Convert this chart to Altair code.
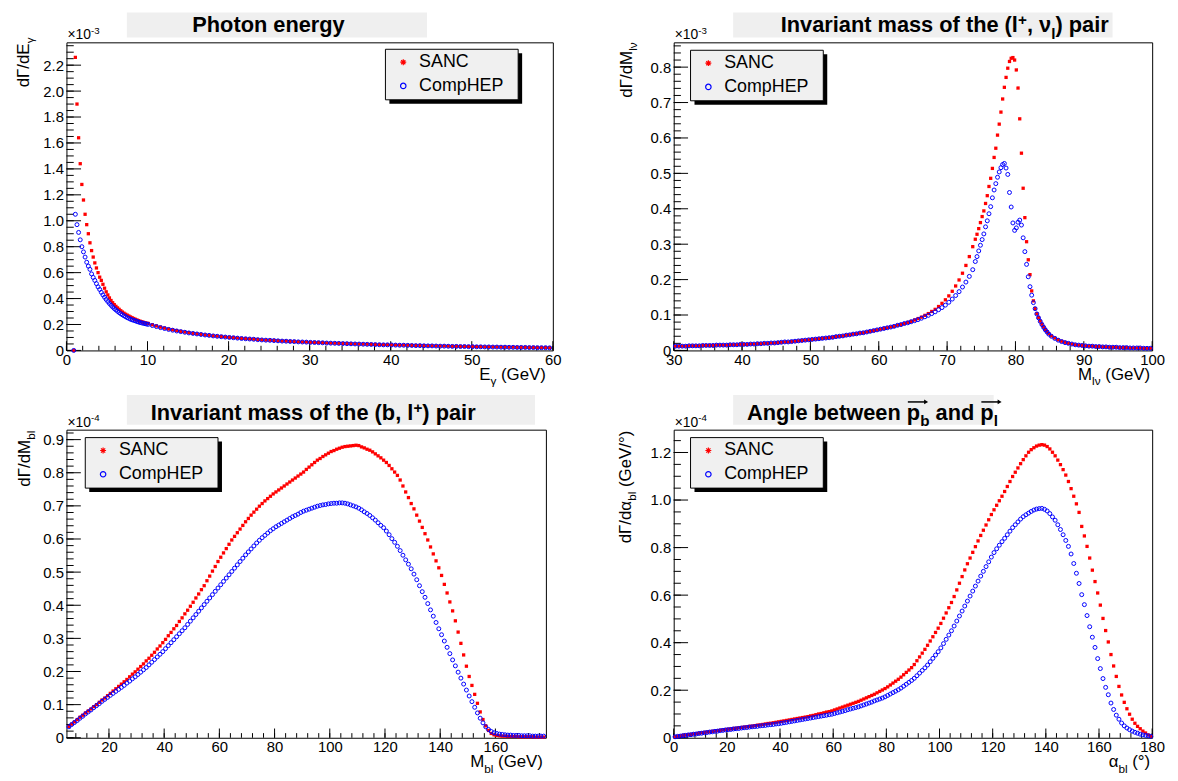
import altair as alt
import pandas as pd

FONT = "Liberation Sans"
RED = "#ff0000"
BLUE = "#0000ff"

# ---------------- data ----------------
# Panel 1: photon energy (GeV); dGamma/dE_gamma in units of 1e-3
EG_FINE = [round(0.9 + 0.2 * i, 2) for i in range(46)]      # bin centres 0.9 .. 9.9
EG_COARSE = [round(10.1 + 0.5 * i, 2) for i in range(100)]  # bin centres 10.1 .. 59.6
SANC_EG_FINE = [0.0, 2.26, 1.90, 1.64, 1.44, 1.28, 1.16, 1.05, 0.97, 0.90,
                0.83, 0.77, 0.72, 0.675, 0.636, 0.60, 0.565, 0.54, 0.51, 0.48,
                0.452, 0.428, 0.405, 0.385, 0.368, 0.353, 0.34, 0.328, 0.317, 0.306,
                0.296, 0.287, 0.279, 0.272, 0.265, 0.258, 0.252, 0.246, 0.240, 0.235,
                0.230, 0.225, 0.221, 0.217, 0.213, 0.210]
COMP_EG_FINE = [0.0, 1.05, 0.97, 0.91, 0.853, 0.80, 0.76, 0.72, 0.68, 0.65,
                0.625, 0.59, 0.563, 0.54, 0.515, 0.49, 0.47, 0.448, 0.428, 0.41,
                0.393, 0.377, 0.362, 0.348, 0.335, 0.323, 0.312, 0.302, 0.292, 0.283,
                0.275, 0.267, 0.26, 0.253, 0.247, 0.241, 0.236, 0.232, 0.228, 0.223,
                0.219, 0.215, 0.212, 0.209, 0.206, 0.203]
SANC_EG_COARSE = [0.208, 0.198, 0.189, 0.180, 0.172, 0.165, 0.159, 0.153, 0.147, 0.142,
                  0.137, 0.132, 0.128, 0.124, 0.120, 0.117, 0.113, 0.110, 0.107, 0.104,
                  0.101, 0.099, 0.096, 0.093, 0.091, 0.089, 0.087, 0.084, 0.082, 0.080,
                  0.079, 0.077, 0.075, 0.073, 0.072, 0.070, 0.069, 0.067, 0.066, 0.065,
                  0.063, 0.062, 0.061, 0.060, 0.058, 0.057, 0.056, 0.055, 0.054, 0.053,
                  0.052, 0.051, 0.050, 0.049, 0.048, 0.047, 0.046, 0.045, 0.044, 0.044,
                  0.043, 0.042, 0.041, 0.041, 0.040, 0.039, 0.038, 0.038, 0.037, 0.036,
                  0.036, 0.035, 0.034, 0.034, 0.033, 0.032, 0.032, 0.031, 0.031, 0.030,
                  0.030, 0.029, 0.029, 0.028, 0.028, 0.027, 0.027, 0.026, 0.026, 0.025,
                  0.025, 0.024, 0.024, 0.024, 0.023, 0.023, 0.022, 0.022, 0.022, 0.021]
COMP_EG_COARSE = [0.201, 0.192, 0.184, 0.176, 0.169, 0.162, 0.156, 0.150, 0.145, 0.140,
                  0.135, 0.131, 0.127, 0.123, 0.119, 0.116, 0.112, 0.109, 0.106, 0.103,
                  0.100, 0.098, 0.095, 0.092, 0.090, 0.088, 0.086, 0.083, 0.081, 0.079,
                  0.078, 0.076, 0.074, 0.072, 0.071, 0.069, 0.068, 0.066, 0.065, 0.064,
                  0.062, 0.061, 0.060, 0.059, 0.057, 0.056, 0.055, 0.054, 0.053, 0.052,
                  0.051, 0.050, 0.049, 0.048, 0.047, 0.046, 0.045, 0.044, 0.043, 0.043,
                  0.042, 0.041, 0.040, 0.040, 0.039, 0.038, 0.037, 0.037, 0.036, 0.035,
                  0.035, 0.034, 0.033, 0.033, 0.032, 0.031, 0.031, 0.030, 0.030, 0.029,
                  0.029, 0.028, 0.028, 0.027, 0.027, 0.026, 0.026, 0.025, 0.025, 0.024,
                  0.024, 0.023, 0.023, 0.023, 0.022, 0.022, 0.021, 0.021, 0.021, 0.020]

# Panel 2: M_lnu (GeV); dGamma/dM_lnu in units of 1e-3
MLV_LOW = [round(30.25 + 0.5 * i, 3) for i in range(88)]     # 30.25 .. 73.75
MLV_PEAK = [round(74.125 + 0.25 * i, 3) for i in range(44)]  # 74.125 .. 84.875
MLV_HIGH = [round(85.25 + 0.5 * i, 3) for i in range(30)]    # 85.25 .. 99.75
SANC_MLV_LOW = [0.012, 0.012, 0.012, 0.012, 0.013, 0.013, 0.013, 0.013, 0.014, 0.014,
                0.014, 0.014, 0.015, 0.015, 0.015, 0.015, 0.016, 0.016, 0.016, 0.017,
                0.017, 0.017, 0.018, 0.018, 0.019, 0.019, 0.020, 0.020, 0.021, 0.021,
                0.022, 0.023, 0.024, 0.024, 0.025, 0.026, 0.027, 0.028, 0.029, 0.030,
                0.031, 0.032, 0.033, 0.034, 0.035, 0.036, 0.037, 0.039, 0.040, 0.041,
                0.043, 0.044, 0.046, 0.047, 0.049, 0.050, 0.052, 0.054, 0.056, 0.058,
                0.060, 0.062, 0.064, 0.066, 0.068, 0.071, 0.073, 0.076, 0.079, 0.082,
                0.086, 0.090, 0.094, 0.099, 0.104, 0.110, 0.116, 0.124, 0.133, 0.143,
                0.154, 0.167, 0.182, 0.199, 0.218, 0.240, 0.265, 0.293]
COMP_MLV_LOW = [0.012, 0.012, 0.012, 0.012, 0.013, 0.013, 0.013, 0.013, 0.014, 0.014,
                0.014, 0.014, 0.015, 0.015, 0.015, 0.015, 0.016, 0.016, 0.016, 0.017,
                0.017, 0.017, 0.018, 0.018, 0.019, 0.019, 0.020, 0.020, 0.021, 0.021,
                0.022, 0.023, 0.024, 0.024, 0.025, 0.026, 0.027, 0.028, 0.029, 0.030,
                0.031, 0.032, 0.033, 0.034, 0.035, 0.036, 0.037, 0.039, 0.040, 0.041,
                0.043, 0.044, 0.046, 0.047, 0.049, 0.050, 0.052, 0.054, 0.056, 0.058,
                0.060, 0.062, 0.064, 0.066, 0.068, 0.071, 0.073, 0.076, 0.078, 0.081,
                0.084, 0.087, 0.091, 0.095, 0.099, 0.104, 0.109, 0.115, 0.121, 0.128,
                0.136, 0.145, 0.155, 0.166, 0.179, 0.193, 0.209, 0.228]
SANC_MLV_PEAK = [0.314, 0.328, 0.344, 0.361, 0.378, 0.394, 0.415, 0.437, 0.463, 0.486,
                 0.514, 0.545, 0.571, 0.608, 0.639, 0.673, 0.710, 0.743, 0.771, 0.797,
                 0.816, 0.825, 0.827, 0.820, 0.792, 0.741, 0.654, 0.557, 0.458, 0.375,
                 0.307, 0.256, 0.214, 0.168, 0.140, 0.118, 0.104, 0.093, 0.083, 0.074,
                 0.066, 0.059, 0.053, 0.047]
COMP_MLV_PEAK = [0.251, 0.265, 0.281, 0.297, 0.313, 0.329, 0.349, 0.366, 0.386, 0.406,
                 0.431, 0.453, 0.471, 0.489, 0.504, 0.516, 0.525, 0.528, 0.515, 0.497,
                 0.446, 0.405, 0.360, 0.339, 0.346, 0.362, 0.368, 0.354, 0.318, 0.279,
                 0.243, 0.208, 0.180, 0.156, 0.135, 0.118, 0.103, 0.092, 0.082, 0.073,
                 0.065, 0.058, 0.052, 0.046]
SANC_MLV_HIGH = [0.041, 0.035, 0.030, 0.026, 0.023, 0.020, 0.018, 0.016, 0.015, 0.014,
                 0.013, 0.012, 0.012, 0.011, 0.011, 0.010, 0.010, 0.009, 0.009, 0.009,
                 0.008, 0.008, 0.008, 0.007, 0.007, 0.007, 0.007, 0.006, 0.006, 0.006]
COMP_MLV_HIGH = [0.040, 0.034, 0.029, 0.025, 0.022, 0.020, 0.018, 0.016, 0.015, 0.014,
                 0.013, 0.012, 0.012, 0.011, 0.011, 0.010, 0.010, 0.009, 0.009, 0.009,
                 0.008, 0.008, 0.008, 0.007, 0.007, 0.007, 0.007, 0.006, 0.006, 0.006]

# Panel 3: M_bl (GeV); dGamma/dM_bl in units of 1e-4
MBL = [round(5.5 + i, 1) for i in range(173)]  # 5.5 .. 177.5
SANC_MBL = [0.034, 0.041, 0.048, 0.055, 0.062, 0.068, 0.075, 0.081, 0.087, 0.094,
            0.100, 0.107, 0.114, 0.120, 0.127, 0.134, 0.141, 0.148, 0.155, 0.162,
            0.169, 0.176, 0.184, 0.192, 0.199, 0.207, 0.215, 0.223, 0.232, 0.240,
            0.249, 0.258, 0.268, 0.277, 0.287, 0.297, 0.308, 0.318, 0.329, 0.339,
            0.351, 0.362, 0.374, 0.385, 0.397, 0.409, 0.422, 0.434, 0.447, 0.459,
            0.474, 0.488, 0.503, 0.517, 0.532, 0.545, 0.558, 0.571, 0.584, 0.597,
            0.608, 0.619, 0.630, 0.641, 0.652, 0.662, 0.672, 0.681, 0.690, 0.699,
            0.707, 0.715, 0.722, 0.729, 0.736, 0.742, 0.748, 0.754, 0.760, 0.766,
            0.772, 0.778, 0.784, 0.790, 0.796, 0.802, 0.810, 0.817, 0.824, 0.831,
            0.838, 0.843, 0.849, 0.854, 0.859, 0.864, 0.867, 0.871, 0.874, 0.877,
            0.879, 0.880, 0.881, 0.882, 0.883, 0.882, 0.878, 0.875, 0.871, 0.868,
            0.863, 0.857, 0.851, 0.845, 0.838, 0.831, 0.822, 0.812, 0.802, 0.792,
            0.778, 0.760, 0.742, 0.725, 0.707, 0.691, 0.672, 0.654, 0.635, 0.616,
            0.597, 0.576, 0.555, 0.534, 0.513, 0.490, 0.463, 0.437, 0.410, 0.383,
            0.353, 0.319, 0.285, 0.250, 0.216, 0.185, 0.158, 0.131, 0.104, 0.078,
            0.055, 0.036, 0.022, 0.013, 0.009, 0.007, 0.006, 0.005, 0.005, 0.004,
            0.004, 0.004, 0.004, 0.003, 0.003, 0.003, 0.003, 0.003, 0.003, 0.002,
            0.002, 0.002, 0.002]
COMP_MBL = [0.033, 0.040, 0.046, 0.052, 0.059, 0.065, 0.072, 0.078, 0.084, 0.091,
            0.097, 0.103, 0.110, 0.116, 0.122, 0.128, 0.134, 0.140, 0.146, 0.152,
            0.158, 0.165, 0.171, 0.178, 0.184, 0.191, 0.198, 0.205, 0.212, 0.220,
            0.228, 0.236, 0.244, 0.252, 0.260, 0.269, 0.278, 0.287, 0.296, 0.305,
            0.314, 0.323, 0.332, 0.342, 0.352, 0.362, 0.372, 0.382, 0.392, 0.402,
            0.412, 0.422, 0.432, 0.442, 0.452, 0.462, 0.472, 0.482, 0.492, 0.502,
            0.512, 0.522, 0.532, 0.542, 0.552, 0.561, 0.570, 0.579, 0.588, 0.596,
            0.604, 0.611, 0.618, 0.625, 0.631, 0.637, 0.642, 0.647, 0.652, 0.657,
            0.662, 0.667, 0.671, 0.675, 0.680, 0.684, 0.687, 0.690, 0.693, 0.696,
            0.699, 0.701, 0.703, 0.704, 0.706, 0.707, 0.708, 0.708, 0.709, 0.709,
            0.708, 0.706, 0.703, 0.700, 0.697, 0.693, 0.688, 0.682, 0.677, 0.671,
            0.664, 0.657, 0.649, 0.641, 0.634, 0.624, 0.613, 0.601, 0.590, 0.578,
            0.565, 0.551, 0.537, 0.524, 0.510, 0.494, 0.477, 0.459, 0.441, 0.424,
            0.405, 0.386, 0.367, 0.348, 0.329, 0.311, 0.292, 0.273, 0.254, 0.235,
            0.217, 0.198, 0.180, 0.162, 0.144, 0.126, 0.109, 0.092, 0.075, 0.059,
            0.045, 0.033, 0.025, 0.019, 0.015, 0.013, 0.011, 0.010, 0.009, 0.008,
            0.008, 0.007, 0.007, 0.007, 0.006, 0.006, 0.006, 0.006, 0.005, 0.005,
            0.005, 0.005, 0.005]

# Panel 4: alpha_bl (degrees); dGamma/dalpha_bl in units of 1e-4 GeV/deg
ABL = [round(0.5 + i, 1) for i in range(180)]  # 0.5 .. 179.5
SANC_ABL = [0.004, 0.006, 0.008, 0.010, 0.011, 0.013, 0.014, 0.016, 0.017, 0.019,
            0.021, 0.022, 0.024, 0.025, 0.027, 0.028, 0.030, 0.031, 0.033, 0.034,
            0.036, 0.037, 0.039, 0.040, 0.042, 0.043, 0.045, 0.046, 0.048, 0.049,
            0.051, 0.053, 0.054, 0.056, 0.058, 0.060, 0.061, 0.063, 0.065, 0.067,
            0.069, 0.071, 0.073, 0.075, 0.077, 0.079, 0.081, 0.083, 0.085, 0.087,
            0.089, 0.092, 0.094, 0.097, 0.100, 0.102, 0.105, 0.108, 0.110, 0.113,
            0.117, 0.121, 0.125, 0.129, 0.133, 0.137, 0.141, 0.145, 0.149, 0.153,
            0.158, 0.163, 0.168, 0.173, 0.178, 0.183, 0.189, 0.195, 0.201, 0.207,
            0.214, 0.222, 0.230, 0.238, 0.246, 0.255, 0.265, 0.275, 0.285, 0.295,
            0.308, 0.324, 0.340, 0.356, 0.372, 0.389, 0.407, 0.425, 0.443, 0.461,
            0.481, 0.503, 0.525, 0.547, 0.569, 0.594, 0.622, 0.650, 0.678, 0.706,
            0.732, 0.756, 0.780, 0.804, 0.828, 0.851, 0.873, 0.895, 0.917, 0.939,
            0.959, 0.978, 0.997, 1.016, 1.036, 1.057, 1.078, 1.099, 1.117, 1.135,
            1.153, 1.170, 1.186, 1.201, 1.212, 1.220, 1.227, 1.231, 1.233, 1.231,
            1.225, 1.215, 1.201, 1.186, 1.168, 1.149, 1.128, 1.105, 1.078, 1.048,
            1.016, 0.984, 0.948, 0.889, 0.849, 0.805, 0.756, 0.705, 0.657, 0.609,
            0.558, 0.502, 0.451, 0.403, 0.350, 0.302, 0.258, 0.216, 0.180, 0.149,
            0.122, 0.099, 0.078, 0.061, 0.048, 0.038, 0.028, 0.020, 0.012, 0.006]
COMP_ABL = [0.004, 0.006, 0.007, 0.009, 0.010, 0.012, 0.013, 0.015, 0.016, 0.018,
            0.019, 0.021, 0.022, 0.024, 0.025, 0.027, 0.028, 0.030, 0.031, 0.033,
            0.034, 0.035, 0.037, 0.038, 0.039, 0.041, 0.042, 0.043, 0.045, 0.046,
            0.047, 0.048, 0.050, 0.051, 0.052, 0.054, 0.055, 0.056, 0.058, 0.059,
            0.061, 0.063, 0.065, 0.067, 0.069, 0.071, 0.073, 0.075, 0.077, 0.079,
            0.081, 0.083, 0.085, 0.087, 0.089, 0.091, 0.093, 0.095, 0.097, 0.099,
            0.102, 0.105, 0.108, 0.111, 0.114, 0.118, 0.121, 0.124, 0.127, 0.130,
            0.134, 0.138, 0.142, 0.146, 0.150, 0.155, 0.159, 0.163, 0.167, 0.172,
            0.178, 0.184, 0.190, 0.196, 0.202, 0.209, 0.217, 0.225, 0.233, 0.241,
            0.250, 0.261, 0.272, 0.283, 0.294, 0.306, 0.320, 0.334, 0.348, 0.362,
            0.378, 0.396, 0.414, 0.432, 0.450, 0.470, 0.491, 0.512, 0.533, 0.554,
            0.575, 0.596, 0.617, 0.638, 0.659, 0.680, 0.700, 0.720, 0.740, 0.760,
            0.779, 0.795, 0.810, 0.825, 0.839, 0.854, 0.869, 0.884, 0.896, 0.908,
            0.920, 0.930, 0.938, 0.945, 0.952, 0.958, 0.962, 0.964, 0.965, 0.961,
            0.954, 0.943, 0.929, 0.915, 0.896, 0.876, 0.854, 0.830, 0.805, 0.773,
            0.733, 0.692, 0.649, 0.602, 0.560, 0.514, 0.467, 0.423, 0.380, 0.333,
            0.291, 0.249, 0.212, 0.181, 0.146, 0.119, 0.095, 0.078, 0.062, 0.050,
            0.041, 0.034, 0.028, 0.023, 0.019, 0.015, 0.012, 0.010, 0.008, 0.006]

# ---------------- helpers ----------------
REG_W = {' ': 278, '(': 333, ')': 333, '/': 278, '-': 333, '×': 584, '°': 400,
         'A': 667, 'C': 722, 'E': 667, 'G': 778, 'H': 722, 'M': 833, 'N': 722,
         'P': 667, 'S': 667, 'V': 667, 'a': 556, 'b': 556, 'd': 556, 'e': 556,
         'l': 222, 'm': 833, 'o': 556, 'p': 556, 'Γ': 556, 'α': 578, 'γ': 500, 'ν': 500}
BOLD_W = {' ': 278, '(': 333, ')': 333, '+': 584, ',': 278, 'A': 722, 'I': 278,
          'P': 667, 'a': 556, 'b': 611, 'd': 611, 'e': 556, 'f': 333, 'g': 611,
          'h': 611, 'i': 278, 'l': 278, 'm': 889, 'n': 611, 'o': 611, 'p': 611,
          'r': 389, 's': 556, 't': 333, 'v': 556, 'w': 778, 'y': 556, 'ν': 556}

ONE = pd.DataFrame({"k": [0]})
STAR = "M-1,0L1,0M0,-1L0,1M-0.7,-0.7L0.7,0.7M-0.7,0.7L0.7,-0.7"


def text_width(s, size, bold):
    table = BOLD_W if bold else REG_W
    return sum(table.get(ch, 556) for ch in s) * size / 1000.0


def label(s, x, y, size, bold=False, angle=0, align="left", baseline="alphabetic"):
    mk = dict(text=s, font=FONT, fontSize=size, fontWeight="bold" if bold else "normal",
              align=align, baseline=baseline, color="black")
    if angle:
        mk["angle"] = angle
    return alt.Chart(ONE).mark_text(**mk).encode(x=alt.value(x), y=alt.value(y))


def rich(parts, x, y, size, bold=False, vertical=False, anchor="start", sup=0.42):
    """Lay out text pieces (normal / sub / sup) one after another."""
    sizes, widths = [], []
    for t, k in parts:
        s = size * 0.7 if k in ("sub", "sup") else size
        sizes.append(s)
        widths.append(text_width(t, s, bold))
    total = sum(widths)
    c = {"start": 0.0, "end": -total, "middle": -total / 2}[anchor]
    layers, starts = [], []
    for (t, k), s, w in zip(parts, sizes, widths):
        off = 0.3 * size if k == "sub" else (-sup * size if k == "sup" else 0.0)
        lead = (len(t) - len(t.lstrip(" "))) * 278 * s / 1000.0
        shown = t.strip(" ")
        pos = c + lead
        if vertical:
            layers.append(label(shown, x + off, y - pos, s, bold, angle=270))
            starts.append(y - pos)
        else:
            layers.append(label(shown, x + pos, y + off, s, bold))
            starts.append(x + pos)
        c += w
    return layers, starts, widths


def box(x1, x2, y1, y2, fill, stroke=False):
    mk = dict(fill=fill)
    if stroke:
        mk.update(stroke="black", strokeWidth=1)
    return alt.Chart(ONE).mark_rect(**mk).encode(
        x=alt.value(x1), x2=alt.value(x2), y=alt.value(y1), y2=alt.value(y2))


def legend(bx, by):
    bw, bh = 134, 51
    out = [box(bx + 4, bx + bw + 4, by + 4, by + bh + 4, "black"),
           box(bx, bx + bw, by, by + bh, "#f0f0f0", stroke=True)]
    out.append(alt.Chart(ONE).mark_point(shape=STAR, filled=False, color=RED, strokeWidth=1.2,
                                         size=36, opacity=1).encode(
        x=alt.value(bx + 18), y=alt.value(by + 13)))
    out.append(alt.Chart(ONE).mark_point(shape="circle", filled=False, color=BLUE, strokeWidth=1.2,
                                         size=30, opacity=1).encode(
        x=alt.value(bx + 18), y=alt.value(by + 37)))
    out.append(label("SANC", bx + 34, by + 13, 18, baseline="middle"))
    out.append(label("CompHEP", bx + 34, by + 37, 18, baseline="middle"))
    return out


def panel(p):
    W, H = p["W"], p["H"]
    xs = alt.Scale(domain=p["xdom"], nice=False, zero=False)
    ys = alt.Scale(domain=p["ydom"], nice=False, zero=False)
    xaxis = alt.Axis(values=p["xmaj"], title=None, domain=False, ticks=False, grid=False,
                     labelFont=FONT, labelFontSize=15, labelColor="black", labelPadding=2,
                     labelFlush=False, labelOverlap=False, labelExpr="format(datum.value, 'd')")
    yaxis = alt.Axis(values=p["ymaj"], title=None, domain=False, ticks=False, grid=False,
                     labelFont=FONT, labelFontSize=15, labelColor="black", labelPadding=3,
                     labelFlush=False, labelOverlap=False,
                     labelExpr="datum.value == 0 ? '0' : format(datum.value, '.1f')")

    def X(f):
        return alt.X(f, type="quantitative", scale=xs, axis=xaxis)

    def Y(f):
        return alt.Y(f, type="quantitative", scale=ys, axis=yaxis)

    red_df = pd.DataFrame({"x": p["x"], "y": p["red"]})
    blue_df = pd.DataFrame({"x": p["x"], "y": p["blue"]})
    layers = []
    # inward ticks (ROOT style)
    ylen, xlen = 0.03 * W, 0.03 * H
    layers.append(alt.Chart(pd.DataFrame({"v": p["ymaj"]})).mark_rule(color="black", strokeWidth=1)
                  .encode(y=Y("v"), x=alt.value(0), x2=alt.value(ylen)))
    layers.append(alt.Chart(pd.DataFrame({"v": p["ymin"]})).mark_rule(color="black", strokeWidth=1)
                  .encode(y=Y("v"), x=alt.value(0), x2=alt.value(ylen / 2)))
    layers.append(alt.Chart(pd.DataFrame({"v": p["xmaj"]})).mark_rule(color="black", strokeWidth=1)
                  .encode(x=X("v"), y=alt.value(H), y2=alt.value(H - xlen)))
    layers.append(alt.Chart(pd.DataFrame({"v": p["xmin"]})).mark_rule(color="black", strokeWidth=1)
                  .encode(x=X("v"), y=alt.value(H), y2=alt.value(H - xlen / 2)))
    # data
    layers.append(alt.Chart(red_df).mark_square(size=11, color=RED, opacity=1)
                  .encode(x=X("x"), y=Y("y")))
    layers.append(alt.Chart(blue_df).mark_point(shape="circle", filled=False, size=16,
                                                strokeWidth=1, color=BLUE, opacity=1)
                  .encode(x=X("x"), y=Y("y")))
    # title box + title
    tb = p["tbox"]
    layers.append(box(tb[0], tb[1], tb[2], tb[3], "#efefef"))
    tl, starts, widths = rich(p["title"], p["tx"], p["ty"], 22, bold=True, sup=0.33)
    layers += tl
    for idx in p.get("arrows", []):
        x1 = starts[idx] + 1
        x2 = starts[idx] + widths[idx] + 9
        ya = p["ty"] - 18
        layers.append(alt.Chart(ONE).mark_rule(color="black", strokeWidth=1.5).encode(
            x=alt.value(x1), x2=alt.value(x2 - 3), y=alt.value(ya)))
        layers.append(alt.Chart(ONE).mark_point(shape="triangle-right", filled=True, color="black",
                                                size=22, opacity=1).encode(
            x=alt.value(x2 - 3), y=alt.value(ya)))
    # exponent
    el, _, _ = rich([("×10", "n"), (p["exp"], "sup")], 1, -3, 14)
    layers += el
    # axis titles
    xl, _, _ = rich(p["xtitle"], W - p["xend"], H + 30, 17, anchor="end")
    layers += xl
    yl, _, _ = rich(p["ytitle"], p["ybase"], p["yend"], 17, vertical=True, anchor="end")
    layers += yl
    layers += legend(p["leg"][0], p["leg"][1])
    return alt.layer(*layers).properties(width=W, height=H)


def ticks(start, step, n, nd=3):
    return [round(start + step * i, nd) for i in range(n)]


TL = panel(dict(
    W=491, H=311, xdom=[0, 60], ydom=[0, 2.376],
    x=EG_FINE + EG_COARSE, red=SANC_EG_FINE + SANC_EG_COARSE, blue=COMP_EG_FINE + COMP_EG_COARSE,
    xmaj=ticks(0, 10, 7), xmin=ticks(0, 2, 31), ymaj=ticks(0, 0.2, 12), ymin=ticks(0, 0.05, 48),
    tbox=(61, 364, -30, -5), title=[("Photon energy", "n")], tx=127, ty=-10,
    exp="-3", xtitle=[("E", "n"), ("γ", "sub"), (" (GeV)", "n")], xend=7,
    ytitle=[("dΓ/dE", "n"), ("γ", "sub")], ybase=-38, yend=-5, leg=(322, 7)))

TR = panel(dict(
    W=483, H=311, xdom=[30, 100], ydom=[0, 0.870],
    x=MLV_LOW + MLV_PEAK + MLV_HIGH, red=SANC_MLV_LOW + SANC_MLV_PEAK + SANC_MLV_HIGH,
    blue=COMP_MLV_LOW + COMP_MLV_PEAK + COMP_MLV_HIGH,
    xmaj=ticks(30, 10, 8), xmin=ticks(30, 2, 36), ymaj=ticks(0, 0.1, 9), ymin=ticks(0, 0.02, 44),
    tbox=(60, 443, -30, -5),
    title=[("Invariant mass of the (l", "n"), ("+", "sup"), (", ", "n"), ("ν", "n"),
           ("l", "sub"), (") pair", "n")], tx=108, ty=-10,
    exp="-3", xtitle=[("M", "n"), ("lν", "sub"), (" (GeV)", "n")], xend=2,
    ytitle=[("dΓ/dM", "n"), ("lν", "sub")], ybase=-42, yend=0, leg=(17, 8)))

BL = panel(dict(
    W=484, H=311, xdom=[4.6, 178.3], ydom=[0, 0.930],
    x=MBL, red=SANC_MBL, blue=COMP_MBL,
    xmaj=ticks(20, 20, 8), xmin=ticks(8, 4, 43), ymaj=ticks(0, 0.1, 10), ymin=ticks(0, 0.02, 47),
    tbox=(61, 473, -35, -5),
    title=[("Invariant mass of the (b, l", "n"), ("+", "sup"), (") pair", "n")], tx=85, ty=-10,
    exp="-4", xtitle=[("M", "n"), ("bl", "sub"), (" (GeV)", "n")], xend=3,
    ytitle=[("dΓ/dM", "n"), ("bl", "sub")], ybase=-37, yend=1, leg=(19, 8)))

BR = panel(dict(
    W=483, H=311, xdom=[0, 180], ydom=[0, 1.296],
    x=ABL, red=SANC_ABL, blue=COMP_ABL,
    xmaj=ticks(0, 20, 10), xmin=ticks(0, 4, 46), ymaj=ticks(0, 0.2, 7), ymin=ticks(0, 0.05, 26),
    tbox=(60, 323, -35, -5),
    title=[("Angle between ", "n"), ("p", "n"), ("b", "sub"), (" and ", "n"), ("p", "n"),
           ("l", "sub")], tx=74, ty=-10, arrows=[1, 4],
    exp="-4", xtitle=[("α", "n"), ("bl", "sub"), (" (°)", "n")], xend=2,
    ytitle=[("dΓ/dα", "n"), ("bl", "sub"), (" (GeV/°)", "n")], ybase=-43, yend=1, leg=(17, 8)))

chart = (alt.concat(TL, TR, BL, BR, columns=2, spacing={"row": 80, "column": 122}, bounds="flush")
         .properties(padding={"left": 6, "top": 0, "right": 4, "bottom": 4})
         .configure(font=FONT)
         .configure_view(stroke="black", strokeWidth=1))

chart.save("out.html", embed_options={"renderer": "svg", "actions": False})
